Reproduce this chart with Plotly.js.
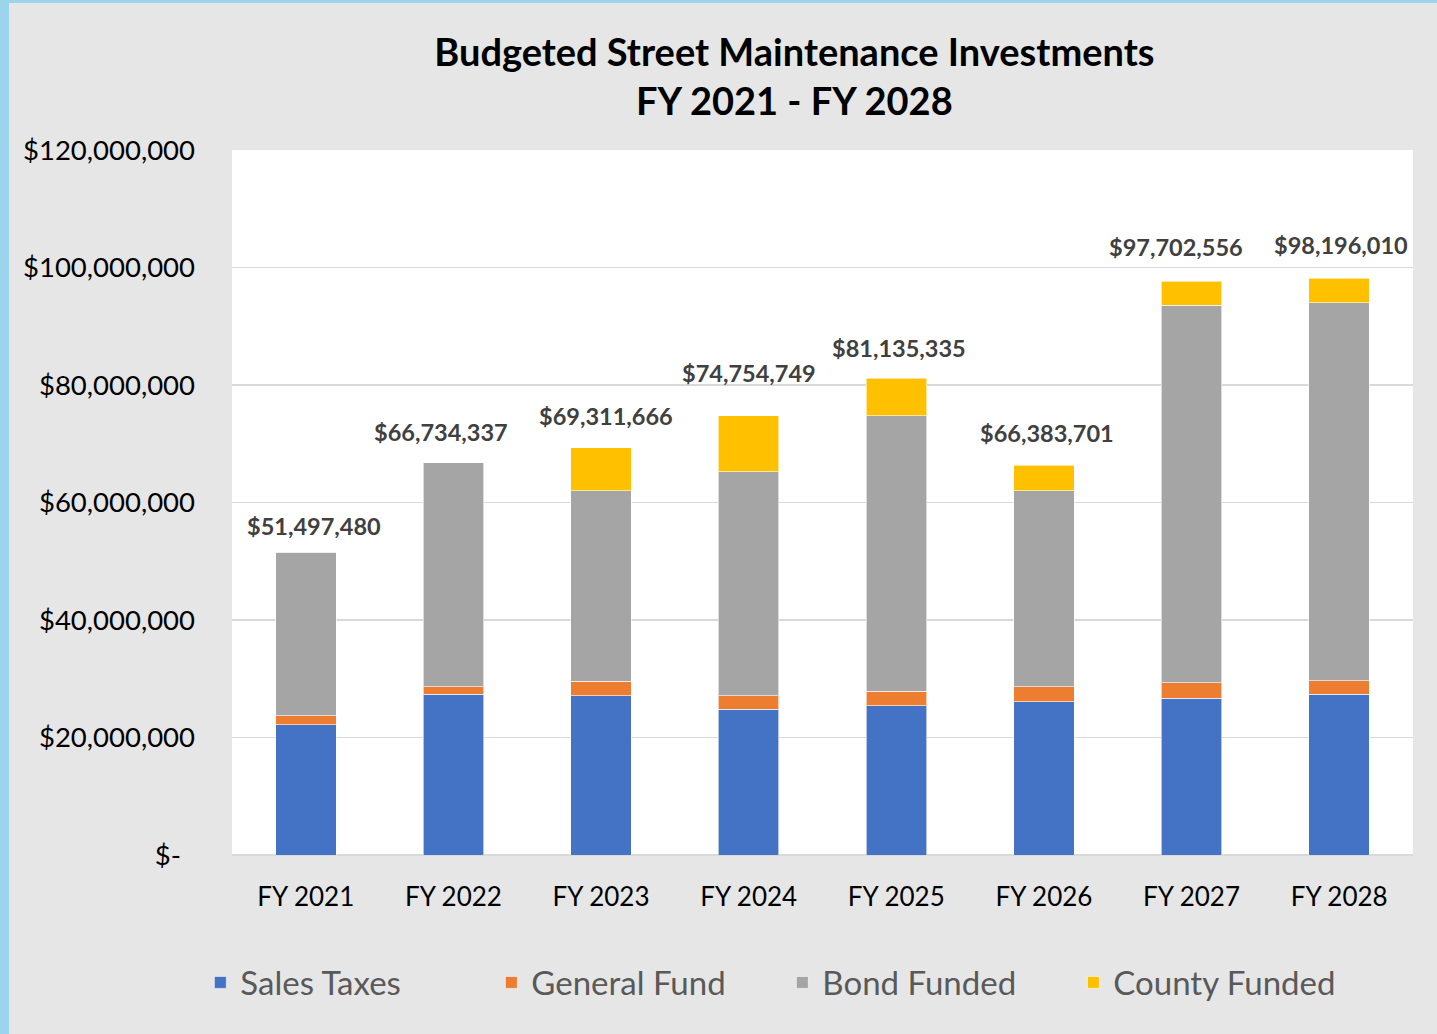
<!DOCTYPE html>
<html>
<head>
<meta charset="utf-8">
<script src="https://cdn.plot.ly/plotly-3.0.1.min.js"></script>
<style>
  html, body { margin: 0; padding: 0; background: #9cd4eb; width: 1437px; height: 1034px; overflow: hidden; }
  #chart { position: absolute; left: 9px; top: 3px; width: 1428px; height: 1031px; }
</style>
</head>
<body>
<div id="chart"></div>
<script>
// ---- Data (USD) ----
const categories = ["FY 2021", "FY 2022", "FY 2023", "FY 2024", "FY 2025", "FY 2026", "FY 2027", "FY 2028"];
const salesTaxes   = [22200000, 27350000, 27100000, 24800000, 25400000, 26100000, 26700000, 27350000];
const generalFund  = [ 1500000,  1250000,  2500000,  2300000,  2500000,  2500000,  2600000,  2350000];
const bondFunded   = [27797480, 38134337, 32400000, 38150000, 46900000, 33400000, 64270000, 64260000];
const countyFunded = [       0,        0,  7311666,  9504749,  6335335,  4383701,  4132556,  4236010];
const totalLabels  = ["$51,497,480", "$66,734,337", "$69,311,666", "$74,754,749", "$81,135,335", "$66,383,701", "$97,702,556", "$98,196,010"];
const totals       = [51497480, 66734337, 69311666, 74754749, 81135335, 66383701, 97702556, 98196010];
const yTickVals    = [0, 20000000, 40000000, 60000000, 80000000, 100000000, 120000000];
const yTickText    = ["$-\u00a0\u00a0", "$20,000,000", "$40,000,000", "$60,000,000", "$80,000,000", "$100,000,000", "$120,000,000"];

// label nudges (pixels) as placed in the original
const labelDx = [8, -12, 5, 0, 3, 3, -16, 2];
const labelDy = [26, 31, 32, 43, 30, 32, 34, 33];

const FONT = "Lato, 'Open Sans', sans-serif";
const edge = { color: "rgba(255,255,255,0.6)", width: 1 };

function barTrace(name, values, color) {
  return { type: "bar", name: name, x: categories, y: values,
           marker: { color: color, line: edge }, hoverinfo: "x+y+name" };
}

const data = [
  barTrace("Sales Taxes", salesTaxes, "#4472c4"),
  barTrace("General Fund", generalFund, "#ed7d31"),
  barTrace("Bond Funded", bondFunded, "#a5a5a5"),
  barTrace("County Funded", countyFunded, "#ffc000")
];

const annotations = categories.map((c, i) => ({
  x: c, y: totals[i], xref: "x", yref: "y",
  text: "<b>" + totalLabels[i] + "</b>", showarrow: false,
  yanchor: "middle", yshift: labelDy[i], xshift: labelDx[i],
  font: { family: FONT, size: 23.5, color: "#404040" }
}));

const layout = {
  width: 1428, height: 1031,
  paper_bgcolor: "#e6e6e6", plot_bgcolor: "#ffffff",
  margin: { l: 223, r: 24, t: 147, b: 179 },
  barmode: "stack", bargap: 0.59,
  font: { family: FONT, color: "#000000" },
  title: {
    text: "<b>Budgeted Street Maintenance Investments<br>FY 2021 - FY 2028</b>",
    font: { family: FONT, size: 38, color: "#000000" },
    x: 0.55, xanchor: "center", y: 0.939, yanchor: "middle", xref: "container", yref: "container"
  },
  xaxis: {
    type: "category", tickfont: { family: FONT, size: 26, color: "#000000" },
    ticks: "", showline: false, ticklabelstandoff: 24
  },
  yaxis: {
    range: [0, 120000000], tickvals: yTickVals, ticktext: yTickText,
    tickfont: { family: FONT, size: 27.5, color: "#000000" },
    gridcolor: "#d9d9d9", gridwidth: 1.5, zeroline: true, zerolinecolor: "#d9d9d9", zerolinewidth: 1.5,
    ticks: "", showline: false, ticklabelstandoff: 36, fixedrange: true
  },
  legend: {
    orientation: "h", x: 0.134, xanchor: "left", y: 0.05, yanchor: "middle",
    xref: "container", yref: "container",
    font: { family: FONT, size: 33, color: "#595959" },
    bgcolor: "rgba(0,0,0,0)", entrywidth: 246, traceorder: "normal"
  },
  annotations: annotations,
  showlegend: true
};

Plotly.newPlot("chart", data, layout, { displayModeBar: false, staticPlot: true });
</script>
</body>
</html>
